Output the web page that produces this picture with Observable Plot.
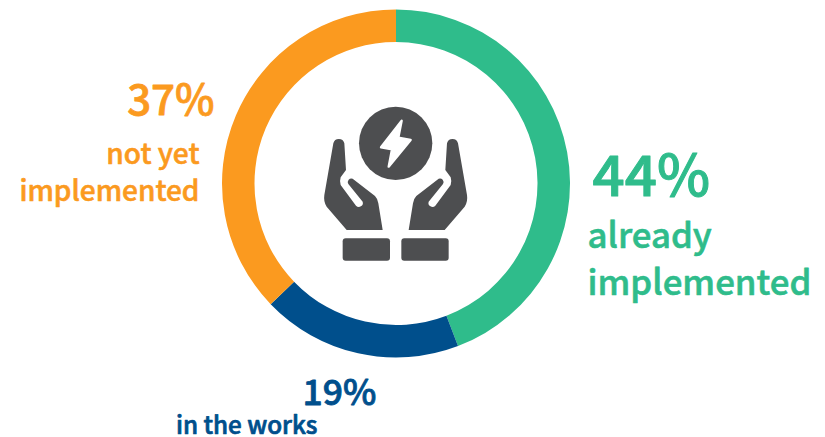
<!DOCTYPE html>
<html>
<head>
<meta charset="utf-8">
<script src="https://cdn.jsdelivr.net/npm/d3@7"></script>
<script src="https://cdn.jsdelivr.net/npm/@observablehq/plot@0.6"></script>
<style>html,body{margin:0;padding:0;background:#fff}svg{display:block}</style>
</head>
<body>
<div id="chart"></div>
<script>
const categories = ["already implemented", "in the works", "not yet implemented"];
const shares = [44.2, 18.6, 37.2];
const colors = ["#2fbc8b", "#004f8c", "#fb9a1f"];
const percentLabels = ["44%", "19%", "37%"];
const nameLines = [["already", "implemented"], ["in the works"], ["not yet", "implemented"]];

const slices = categories.map((category, i) => ({category, share: shares[i]}));

const cx = 396, cy = 183.5, outerR = 174, innerR = 141.5;
const font = "'Noto Sans CJK SC', 'Noto Sans', sans-serif";

// Stacked bar, bent into a ring: the x scale's range is the full circle in radians.
function ringRender(index, scales, values) {
  const arc = d3.arc().innerRadius(innerR).outerRadius(outerR);
  const g = d3.create("svg:g").attr("transform", `translate(${cx},${cy})`);
  for (const i of index) {
    g.append("path")
      .attr("d", arc({startAngle: values.x1[i], endAngle: values.x2[i]}))
      .attr("fill", values.fill ? values.fill[i] : scales.color(slices[i].category));
  }
  return g.node();
}

// Semibold is not installed: medium weight thickened with a thin stroke of the same colour.
function label(text, color, size, thicken, anchor, x, y) {
  return Plot.text([text], {
    text: d => d, frameAnchor: "top-left", lineAnchor: "bottom", textAnchor: anchor,
    dx: x, dy: y, fill: color, stroke: color, strokeWidth: thicken,
    fontSize: size, fontWeight: 500, fontFamily: font
  });
}

function icon() {
  const hand = "M100 160 A17 17 0 0 1 133 160 L138 240 L122 262 Q118 275 122 285 L168 347 A12 12 0 0 0 188 335 L145 282 A11 11 0 0 1 158 266 L225 318 Q233 326 235 340 L248 420 L140 420 L80 350 Q70 335 73 315 Z";
  const bolt = "M305 92 L243 172 L276 178 L266 230 L332 150 L295 143 Z";
  const g = d3.create("svg:g").attr("transform", "translate(300,90) scale(0.33333)").attr("fill", "#4d4e50");
  g.append("circle").attr("cx", 287).attr("cy", 160).attr("r", 110);
  g.append("path").attr("d", bolt).attr("fill", "#fff").attr("stroke", "#fff").attr("stroke-width", 7).attr("stroke-linejoin", "round");
  g.append("path").attr("d", hand);
  g.append("path").attr("d", hand).attr("transform", "translate(574,0) scale(-1,1)");
  g.append("rect").attr("x", 128).attr("y", 445).attr("width", 142).attr("height", 67).attr("rx", 9);
  g.append("rect").attr("x", 304).attr("y", 445).attr("width", 142).attr("height", 67).attr("rx", 9);
  return g.node();
}

const chart = Plot.plot({
  width: 825, height: 437, margin: 0,
  x: {domain: [0, 100], range: [0, 2 * Math.PI], axis: null},
  y: {axis: null},
  color: {domain: categories, range: colors},
  marks: [
    Plot.barX(slices, Plot.stackX({x: "share", fill: "category", order: null, render: ringRender})),
    icon,
    label(percentLabels[0], colors[0], 56.5, 1, "start", 592, 195),
    label(nameLines[0][0], colors[0], 34.8, 0.6, "start", 587, 247),
    label(nameLines[0][1], colors[0], 34.8, 0.6, "start", 587, 294),
    label(percentLabels[1], colors[1], 35.5, 0.8, "start", 302, 404),
    label(nameLines[1][0], colors[1], 24.2, 0.7, "start", 175.5, 433),
    label(percentLabels[2], colors[2], 42, 0.8, "end", 214, 114),
    label(nameLines[2][0], colors[2], 28, 0.6, "end", 199, 163),
    label(nameLines[2][1], colors[2], 28, 0.6, "end", 199, 200)
  ]
});
document.getElementById("chart").append(chart);
</script>
</body>
</html>
